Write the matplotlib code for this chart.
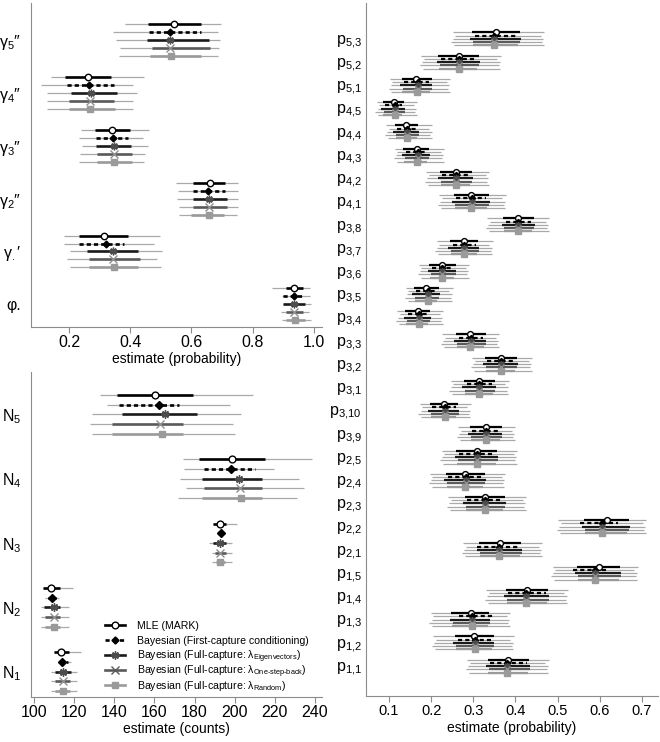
import matplotlib
matplotlib.use("Agg")
import matplotlib.pyplot as plt
from matplotlib.lines import Line2D

plt.rcParams['font.family'] = ['Liberation Sans', 'DejaVu Sans']
plt.rcParams['mathtext.fontset'] = 'custom'
plt.rcParams['mathtext.rm'] = 'Liberation Sans'
plt.rcParams['mathtext.it'] = 'Liberation Sans:italic'
plt.rcParams['mathtext.default'] = 'regular'
plt.rcParams['lines.scale_dashes'] = False

# each tuple: (estimate, lower 95%, upper 95%, lower inner, upper inner)
method_names = ["MLE (MARK)",
                "Bayesian (First-capture conditioning)",
                r"Bayesian (Full-capture: $\lambda_{\text{Eigenvectors}}$)",
                r"Bayesian (Full-capture: $\lambda_{\text{One-step-back}}$)",
                r"Bayesian (Full-capture: $\lambda_{\text{Random}}$)"]

# survival / recruitment panel
gamma_labels = [r"$\gamma_5$″", r"$\gamma_4$″", r"$\gamma_3$″", r"$\gamma_2$″", r"$\gamma_.$′", "φ."]
gamma_mle = [(0.544, 0.383, 0.698, 0.459, 0.631), (0.262, 0.140, 0.444, 0.186, 0.338),
             (0.342, 0.240, 0.460, 0.284, 0.400), (0.660, 0.551, 0.752, 0.605, 0.711),
             (0.313, 0.183, 0.498, 0.232, 0.392), (0.937, 0.864, 0.988, 0.910, 0.966)]
gamma_fc = [(0.531, 0.345, 0.688, 0.461, 0.631), (0.265, 0.110, 0.409, 0.194, 0.346),
            (0.344, 0.233, 0.442, 0.289, 0.394), (0.654, 0.556, 0.754, 0.606, 0.711),
            (0.320, 0.185, 0.478, 0.232, 0.380), (0.937, 0.897, 0.988, 0.900, 0.966)]
gamma_eig = [(0.531, 0.353, 0.695, 0.456, 0.657), (0.273, 0.129, 0.422, 0.207, 0.357),
             (0.346, 0.242, 0.457, 0.288, 0.403), (0.657, 0.553, 0.752, 0.605, 0.715),
             (0.343, 0.203, 0.503, 0.259, 0.424), (0.937, 0.899, 0.991, 0.899, 0.970)]
gamma_osb = [(0.531, 0.368, 0.691, 0.471, 0.660), (0.269, 0.129, 0.409, 0.200, 0.346),
             (0.346, 0.236, 0.448, 0.293, 0.405), (0.657, 0.558, 0.754, 0.605, 0.715),
             (0.343, 0.194, 0.489, 0.264, 0.431), (0.937, 0.892, 0.986, 0.910, 0.966)]
gamma_rnd = [(0.534, 0.364, 0.688, 0.464, 0.633), (0.269, 0.127, 0.408, 0.200, 0.351),
             (0.346, 0.233, 0.446, 0.293, 0.405), (0.657, 0.558, 0.750, 0.600, 0.708),
             (0.346, 0.203, 0.500, 0.264, 0.424), (0.940, 0.897, 0.991, 0.910, 0.970)]

# abundance panel
n_labels = [r"$N_5$", r"$N_4$", r"$N_3$", r"$N_2$", r"$N_1$"]
n_mle = [(160.2, 132.8, 209.2, 141.1, 179.3), (198.8, 174.0, 238.3, 182.3, 215.1),
         (192.6, 189.3, 201.3, 189.3, 195.9), (108.6, 104.5, 119.5, 104.5, 112.8),
         (113.6, 109.8, 123.6, 109.8, 117.3)]
n_fc = [(162.4, 136.6, 197.6, 142.2, 172.3), (198.1, 174.8, 219.6, 184.6, 210.1),
        (193.1, 191.4, 195.4, 191.8, 194.6), (109.1, 105.7, 112.5, 106.9, 111.1),
        (114.1, 112.0, 118.6, 112.6, 116.7)]
n_eig = [(165.2, 128.9, 202.9, 143.6, 181.0), (202.1, 172.7, 232.0, 183.5, 213.4),
         (192.6, 187.3, 198.8, 189.3, 195.9), (110.0, 103.3, 117.3, 105.0, 112.8),
         (114.5, 108.3, 121.4, 110.3, 118.6)]
n_osb = [(162.7, 128.1, 199.3, 139.1, 174.0), (202.6, 175.5, 234.5, 184.6, 213.4),
         (192.6, 188.8, 198.4, 190.1, 195.9), (109.8, 103.3, 117.3, 105.3, 112.8),
         (114.5, 108.3, 121.4, 110.3, 118.1)]
n_rnd = [(163.8, 128.9, 200.3, 139.1, 174.3), (203.1, 171.8, 230.9, 183.5, 213.4),
         (192.9, 188.8, 198.4, 190.9, 195.4), (110.0, 103.3, 117.3, 105.3, 113.1),
         (114.5, 108.3, 121.4, 110.3, 118.1)]

# capture probability panel
p_labels = ["5{,}3", "5{,}2", "5{,}1", "4{,}5", "4{,}4", "4{,}3", "4{,}2", "4{,}1", "3{,}8",
            "3{,}7", "3{,}6", "3{,}5", "3{,}4", "3{,}3", "3{,}2", "3{,}1", "3{,}10", "3{,}9",
            "2{,}5", "2{,}4", "2{,}3", "2{,}2", "2{,}1", "1{,}5", "1{,}4", "1{,}3", "1{,}2", "1{,}1"]
p_mle = [(0.353, 0.251, 0.468, 0.297, 0.410), (0.266, 0.177, 0.365, 0.217, 0.313),
         (0.164, 0.102, 0.245, 0.130, 0.201), (0.112, 0.071, 0.167, 0.085, 0.136),
         (0.140, 0.094, 0.203, 0.114, 0.170), (0.166, 0.114, 0.231, 0.134, 0.195),
         (0.259, 0.189, 0.338, 0.221, 0.297), (0.295, 0.219, 0.377, 0.254, 0.337),
         (0.407, 0.333, 0.480, 0.371, 0.444), (0.277, 0.213, 0.346, 0.245, 0.312),
         (0.225, 0.171, 0.290, 0.196, 0.258), (0.189, 0.140, 0.251, 0.159, 0.218),
         (0.168, 0.120, 0.229, 0.139, 0.197), (0.292, 0.226, 0.361, 0.259, 0.329),
         (0.365, 0.297, 0.440, 0.327, 0.403), (0.313, 0.246, 0.384, 0.278, 0.351),
         (0.231, 0.173, 0.294, 0.197, 0.264), (0.329, 0.264, 0.399, 0.292, 0.367),
         (0.309, 0.225, 0.404, 0.260, 0.357), (0.280, 0.197, 0.375, 0.235, 0.327),
         (0.327, 0.240, 0.425, 0.280, 0.375), (0.616, 0.501, 0.710, 0.562, 0.669),
         (0.364, 0.276, 0.463, 0.314, 0.414), (0.597, 0.488, 0.690, 0.546, 0.649),
         (0.427, 0.331, 0.524, 0.377, 0.478), (0.294, 0.199, 0.387, 0.248, 0.338),
         (0.302, 0.205, 0.396, 0.257, 0.348), (0.383, 0.286, 0.479, 0.334, 0.433)]
p_fc = [(0.350, 0.257, 0.460, 0.303, 0.404), (0.265, 0.183, 0.357, 0.223, 0.307),
        (0.168, 0.108, 0.237, 0.136, 0.195), (0.114, 0.077, 0.159, 0.091, 0.130),
        (0.143, 0.100, 0.195, 0.120, 0.164), (0.168, 0.120, 0.223, 0.140, 0.189),
        (0.260, 0.195, 0.330, 0.227, 0.291), (0.296, 0.225, 0.369, 0.260, 0.331),
        (0.405, 0.339, 0.472, 0.377, 0.438), (0.277, 0.219, 0.338, 0.251, 0.306),
        (0.227, 0.177, 0.282, 0.202, 0.252), (0.192, 0.146, 0.243, 0.165, 0.212),
        (0.172, 0.126, 0.221, 0.145, 0.191), (0.294, 0.232, 0.353, 0.265, 0.323),
        (0.365, 0.303, 0.432, 0.333, 0.397), (0.313, 0.252, 0.376, 0.284, 0.345),
        (0.233, 0.179, 0.286, 0.203, 0.258), (0.329, 0.270, 0.391, 0.298, 0.361),
        (0.310, 0.231, 0.396, 0.266, 0.351), (0.282, 0.203, 0.367, 0.241, 0.321),
        (0.327, 0.246, 0.417, 0.286, 0.369), (0.605, 0.507, 0.702, 0.552, 0.643),
        (0.361, 0.282, 0.455, 0.310, 0.405), (0.588, 0.494, 0.682, 0.536, 0.623),
        (0.425, 0.337, 0.516, 0.383, 0.472), (0.297, 0.205, 0.379, 0.266, 0.350),
        (0.304, 0.211, 0.388, 0.263, 0.342), (0.381, 0.292, 0.471, 0.340, 0.427)]
p_eig = [(0.350, 0.253, 0.466, 0.293, 0.412), (0.265, 0.179, 0.363, 0.213, 0.315),
         (0.168, 0.104, 0.243, 0.126, 0.203), (0.114, 0.073, 0.165, 0.081, 0.138),
         (0.143, 0.096, 0.201, 0.110, 0.172), (0.168, 0.116, 0.229, 0.130, 0.197),
         (0.260, 0.191, 0.336, 0.217, 0.299), (0.296, 0.221, 0.375, 0.250, 0.339),
         (0.405, 0.335, 0.478, 0.367, 0.446), (0.277, 0.215, 0.344, 0.241, 0.314),
         (0.227, 0.173, 0.288, 0.192, 0.260), (0.192, 0.142, 0.249, 0.155, 0.220),
         (0.172, 0.122, 0.227, 0.135, 0.199), (0.294, 0.228, 0.359, 0.255, 0.331),
         (0.365, 0.299, 0.438, 0.323, 0.405), (0.313, 0.248, 0.382, 0.274, 0.353),
         (0.233, 0.175, 0.292, 0.193, 0.266), (0.329, 0.266, 0.397, 0.288, 0.369),
         (0.310, 0.227, 0.402, 0.256, 0.359), (0.282, 0.199, 0.373, 0.231, 0.329),
         (0.327, 0.242, 0.423, 0.276, 0.377), (0.605, 0.503, 0.708, 0.558, 0.671),
         (0.361, 0.278, 0.461, 0.310, 0.416), (0.588, 0.490, 0.688, 0.542, 0.651),
         (0.425, 0.333, 0.522, 0.373, 0.480), (0.297, 0.201, 0.385, 0.244, 0.340),
         (0.304, 0.207, 0.394, 0.253, 0.350), (0.381, 0.288, 0.477, 0.330, 0.435)]
p_osb = [(0.350, 0.248, 0.463, 0.300, 0.411), (0.265, 0.174, 0.360, 0.220, 0.314),
         (0.168, 0.099, 0.240, 0.133, 0.202), (0.114, 0.068, 0.162, 0.088, 0.137),
         (0.143, 0.091, 0.198, 0.117, 0.171), (0.168, 0.111, 0.226, 0.137, 0.196),
         (0.260, 0.186, 0.333, 0.224, 0.298), (0.296, 0.216, 0.372, 0.257, 0.338),
         (0.405, 0.330, 0.475, 0.374, 0.445), (0.277, 0.210, 0.341, 0.248, 0.313),
         (0.227, 0.168, 0.285, 0.199, 0.259), (0.192, 0.137, 0.246, 0.162, 0.219),
         (0.172, 0.117, 0.224, 0.142, 0.198), (0.294, 0.223, 0.356, 0.262, 0.330),
         (0.365, 0.294, 0.435, 0.330, 0.404), (0.313, 0.243, 0.379, 0.281, 0.352),
         (0.233, 0.170, 0.289, 0.200, 0.265), (0.329, 0.261, 0.394, 0.295, 0.368),
         (0.310, 0.222, 0.399, 0.263, 0.358), (0.282, 0.194, 0.370, 0.238, 0.328),
         (0.327, 0.237, 0.420, 0.283, 0.376), (0.605, 0.498, 0.705, 0.565, 0.670),
         (0.361, 0.273, 0.458, 0.317, 0.415), (0.588, 0.485, 0.685, 0.549, 0.650),
         (0.425, 0.328, 0.519, 0.380, 0.479), (0.297, 0.196, 0.382, 0.251, 0.339),
         (0.304, 0.202, 0.391, 0.260, 0.349), (0.381, 0.283, 0.474, 0.337, 0.434)]
p_rnd = [(0.349, 0.255, 0.467, 0.299, 0.406), (0.265, 0.181, 0.364, 0.219, 0.309),
         (0.167, 0.106, 0.244, 0.132, 0.197), (0.114, 0.075, 0.166, 0.087, 0.132),
         (0.143, 0.098, 0.202, 0.116, 0.166), (0.167, 0.118, 0.230, 0.136, 0.191),
         (0.260, 0.193, 0.337, 0.223, 0.293), (0.295, 0.223, 0.376, 0.256, 0.333),
         (0.405, 0.337, 0.479, 0.373, 0.440), (0.278, 0.217, 0.345, 0.247, 0.308),
         (0.227, 0.175, 0.289, 0.198, 0.254), (0.192, 0.144, 0.250, 0.161, 0.214),
         (0.172, 0.124, 0.228, 0.141, 0.193), (0.293, 0.230, 0.360, 0.261, 0.325),
         (0.365, 0.301, 0.439, 0.329, 0.399), (0.313, 0.250, 0.383, 0.280, 0.347),
         (0.233, 0.177, 0.293, 0.199, 0.260), (0.329, 0.268, 0.398, 0.294, 0.363),
         (0.309, 0.229, 0.403, 0.262, 0.353), (0.281, 0.201, 0.374, 0.237, 0.323),
         (0.327, 0.244, 0.424, 0.282, 0.371), (0.605, 0.505, 0.709, 0.564, 0.665),
         (0.361, 0.280, 0.462, 0.316, 0.410), (0.588, 0.492, 0.689, 0.548, 0.645),
         (0.424, 0.335, 0.523, 0.379, 0.474), (0.297, 0.203, 0.386, 0.250, 0.334),
         (0.304, 0.209, 0.395, 0.259, 0.344), (0.381, 0.290, 0.478, 0.336, 0.429)]

THIN = "#a9a9a9"
SPINE = "#8c8c8c"

styles = [
    dict(color="black", ls="-", marker="o", mfc="white", mec="black", scale=1.0),
    dict(color="black", ls=(0, (3, 2.2)), marker="D", mfc="black", mec="black", scale=0.75),
    dict(color="#1a1a1a", ls="-", marker=(8, 2, 0), mfc="#4d4d4d", mec="#4d4d4d", scale=1.2),
    dict(color="#5a5a5a", ls="-", marker="x", mfc="#8f8f8f", mec="#8f8f8f", scale=1.1),
    dict(color="#9a9a9a", ls="-", marker="s", mfc="#9a9a9a", mec="#9a9a9a", scale=0.9),
]


def draw_panel(ax, series, labels, offsets, lw_thin, lw_thick, ms):
    n = len(labels)
    for rows, off, st in zip(series, offsets, styles):
        est, lo, hi, lo50, hi50 = zip(*rows)
        ys = [n - 1 - i + off for i in range(n)]
        ax.hlines(ys, lo, hi, color=THIN, lw=lw_thin, zorder=1)
        ax.hlines(ys, lo50, hi50, color=st["color"], lw=lw_thick, linestyles=[st["ls"]], zorder=2)
        ax.plot(est, ys, ls="none", marker=st["marker"], ms=ms * st["scale"],
                mfc=st["mfc"], mec=st["mec"], mew=1.0, zorder=3)
    ax.set_yticks(range(n))
    ax.set_yticklabels(labels[::-1])
    for side in ["top", "right"]:
        ax.spines[side].set_visible(False)
    for side in ["left", "bottom"]:
        ax.spines[side].set_color(SPINE)
    ax.tick_params(axis="y", length=0)
    ax.tick_params(axis="x", length=4, color=SPINE, pad=2)


fig = plt.figure(figsize=(6.6, 7.42), dpi=100)
W, H = 660.0, 742.0

ax1 = fig.add_axes([0.047, 0.5593, 0.4409, 0.4367])
draw_panel(ax1, [gamma_mle, gamma_fc, gamma_eig, gamma_osb, gamma_rnd], gamma_labels,
           [0.30, 0.15, 0.0, -0.15, -0.30], 0.9, 1.9, 4.6)
ax1.set_xlim(0.076, 1.027)
ax1.set_ylim(-0.43, 5.706)
ax1.set_xticks([0.2, 0.4, 0.6, 0.8, 1.0])
ax1.set_xticklabels(["0.2", "0.4", "0.6", "0.8", "1.0"])
ax1.tick_params(axis="x", labelsize=11.5)
ax1.tick_params(axis="y", labelsize=11.5, pad=7)
ax1.set_xlabel("estimate (probability)", fontsize=10, labelpad=1)

ax2 = fig.add_axes([0.047, 0.0606, 0.4409, 0.4380])
draw_panel(ax2, [n_mle, n_fc, n_eig, n_osb, n_rnd], n_labels,
           [0.30, 0.15, 0.0, -0.15, -0.30], 0.9, 1.9, 4.9)
ax2.set_xlim(98.5, 243.5)
ax2.set_ylim(-0.393, 4.657)
ax2.set_xticks(range(100, 241, 20))
ax2.tick_params(axis="x", labelsize=11.5)
ax2.tick_params(axis="y", labelsize=11.5, pad=7)
ax2.set_xlabel("estimate (counts)", fontsize=10, labelpad=1)

# legend drawn entry by entry so that every row has the same spacing
for i, (name, st) in enumerate(zip(method_names, styles)):
    yc = (H - (625 + i * 15.0)) / H
    fig.add_artist(Line2D([105 / W, 125 / W], [yc, yc], transform=fig.transFigure,
                          color=st["color"], lw=1.9, ls=st["ls"]))
    fig.add_artist(Line2D([115 / W], [yc], transform=fig.transFigure, ls="none",
                          marker=st["marker"], ms=4.8 * st["scale"], mfc=st["mfc"],
                          mec=st["mec"] if st["marker"] != "x" else st["color"], mew=1.0))
    fig.text(137 / W, yc - 4 / H, name, fontsize=7.6, va="baseline", ha="left")

ax3 = fig.add_axes([0.5545, 0.062, 0.4424, 0.934])
draw_panel(ax3, [p_mle, p_fc, p_eig, p_osb, p_rnd], [r"$p_{%s}$" % s for s in p_labels],
           [0.28, 0.14, 0.0, -0.14, -0.28], 0.9, 1.6, 4.2)
ax3.set_xlim(0.0455, 0.738)
ax3.set_ylim(-1.29, 28.55)
ax3.set_xticks([0.1, 0.2, 0.3, 0.4, 0.5, 0.6, 0.7])
ax3.set_xticklabels(["0.1", "0.2", "0.3", "0.4", "0.5", "0.6", "0.7"])
ax3.tick_params(axis="x", labelsize=10.5)
ax3.tick_params(axis="y", labelsize=11.5, pad=3)
ax3.set_xlabel("estimate (probability)", fontsize=10, labelpad=2)

fig.savefig("out.png", dpi=100)
